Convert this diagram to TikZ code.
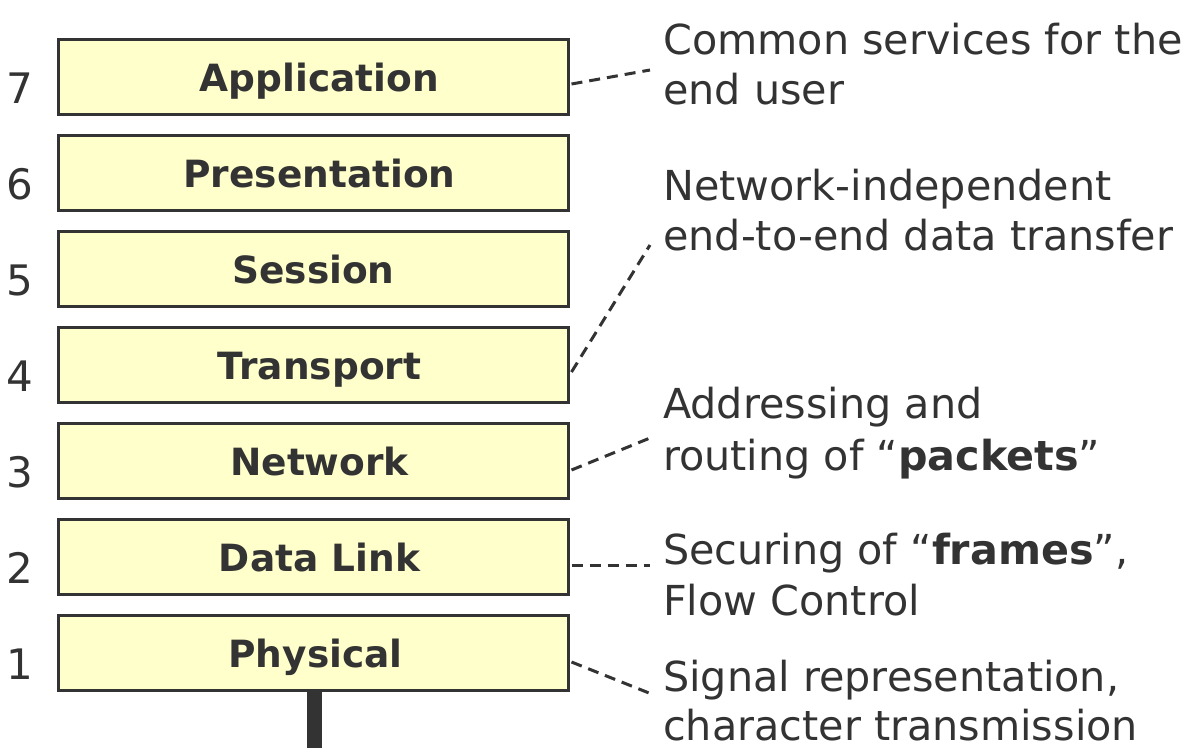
\documentclass[tikz,border=0pt]{standalone}
\usepackage{fontspec}
\setmainfont{DejaVu Sans}
\usetikzlibrary{calc}
\definecolor{ink}{HTML}{333333}
\definecolor{boxfill}{HTML}{FFFFCC}
\begin{document}
\begin{tikzpicture}[x=1pt,y=-1pt,
  layerbox/.style={draw=ink,fill=boxfill,line width=3pt,minimum width=510pt,minimum height=75pt,inner sep=0pt,
    text height=31pt,text depth=2pt,
    font=\fontsize{37.5}{44}\selectfont\bfseries,text=ink},
  layernum/.style={font=\fontsize{42}{50}\selectfont,text=ink,inner sep=0pt},
  desc/.style={font=\fontsize{41.3}{50}\selectfont,text=ink,anchor=base west,inner sep=0pt},
  dashline/.style={draw=ink,line width=3pt,dash pattern=on 11pt off 7pt}]
\useasboundingbox (0,0) rectangle (1191,748);
% boxes
\node[layerbox] (app) at (313.5,77) {\hspace*{12pt}Application};
\node[layerbox] (pres) at (313.5,173) {\hspace*{12pt}Presentation};
\node[layerbox] (sess) at (313.5,269) {Session};
\node[layerbox] (trans) at (313.5,365) {\hspace*{12pt}Transport};
\node[layerbox] (net) at (313.5,461) {\hspace*{12pt}Network};
\node[layerbox] (dl) at (313.5,557) {\hspace*{12pt}Data Link};
\node[layerbox] (phys) at (313.5,653) {\hspace*{4pt}Physical};
% bar
\node[fill=ink,minimum width=15pt,minimum height=56pt,inner sep=0pt,anchor=north] (bar) at ($(phys.south)+(1,0)$) {};
% numbers
\node[layernum] (n7) at (20,88) {7};
\node[layernum] (n6) at (20,184) {6};
\node[layernum] (n5) at (20,280) {5};
\node[layernum] (n4) at (20,376) {4};
\node[layernum] (n3) at (20,472) {3};
\node[layernum] (n2) at (20,568) {2};
\node[layernum] (n1) at (20,664) {1};
% descriptions
\node[desc] (d7a) at (663,54) {Common services for the};
\node[desc] (d7b) at (663,104) {end user};
\node[desc] (d4a) at (663,200) {Network-independent};
\node[desc] (d4b) at (663,250) {end-to-end data transfer};
\node[desc] (d3a) at (663,418) {Addressing and};
\node[desc] (d3b) at (663,470) {routing of “\textbf{packets}”};
\node[desc] (d2a) at (663,564) {Securing of “\textbf{frames}”,};
\node[desc] (d2b) at (663,615) {Flow Control};
\node[desc] (d1a) at (663,691) {Signal representation,};
\node[desc,text depth=0pt] (d1b) at (663,740) {character transmission};
% connector ends
\coordinate (c7) at (650,70);
\coordinate (c4) at (650,245);
\coordinate (c3) at (650,438);
\coordinate (c2) at (650,565);
\coordinate (c1) at (649,693);
\draw[dashline] ($(app.east)+(1.5,7)$) -- (c7);
\draw[dashline] ($(trans.east)+(1.5,7)$) -- (c4);
\draw[dashline] ($(net.east)+(1.5,9)$) -- (c3);
\draw[dashline] ($(dl.east)+(1.5,8)$) -- (c2);
\draw[dashline] ($(phys.east)+(1.5,9)$) -- (c1);
\end{tikzpicture}
\end{document}
